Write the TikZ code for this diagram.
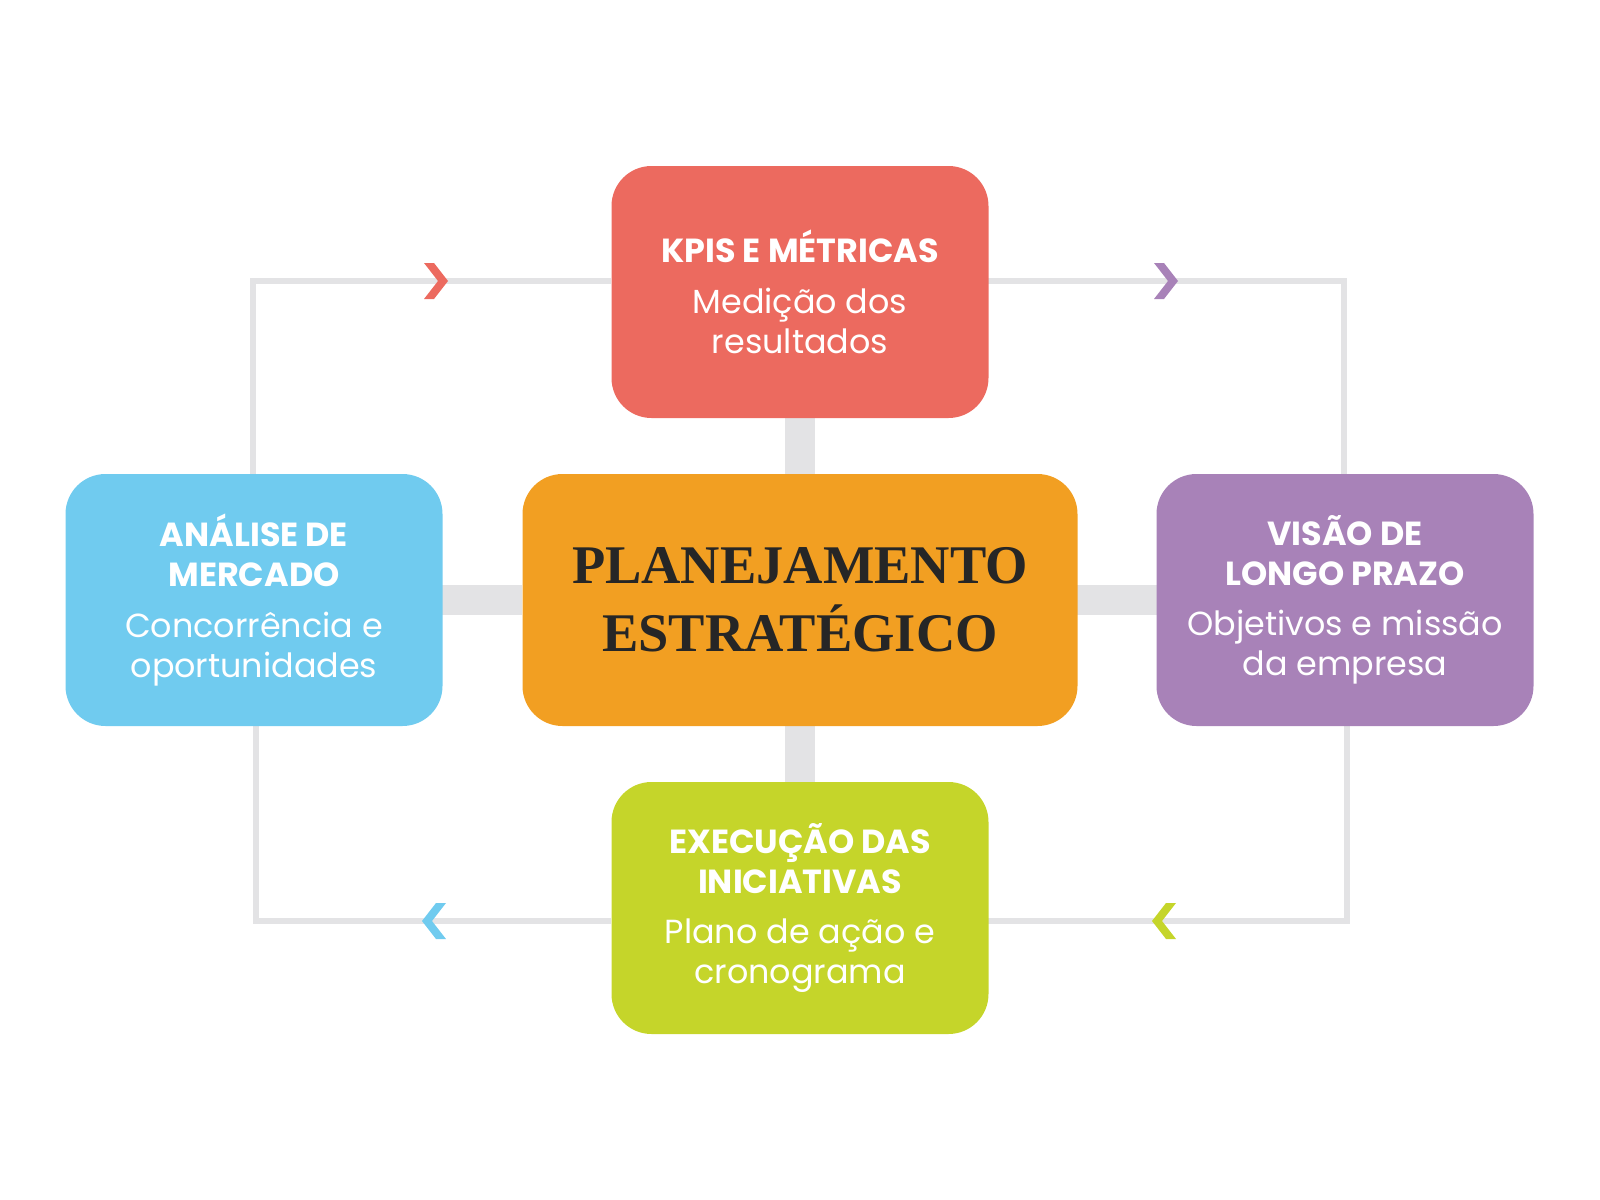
\documentclass[tikz,border=0pt]{standalone}
\usepackage{fontspec}
\setmainfont{Poppins}
\newfontfamily\titlefont{Liberation Serif}
\newcommand\hdx{\bfseries}
\newcommand\bdx{\mdseries}
\begin{document}
\begin{tikzpicture}[x=0.02cm,y=-0.02cm,
  box/.style={rounded corners=40*0.02cm, minimum width=377*0.02cm, minimum height=252*0.02cm, text=white, align=center, inner sep=0pt, font=\fontsize{19}{22.7}\selectfont},
  bar/.style={draw=barg, line width=30*0.02cm},
  loop/.style={draw=barg, line width=6*0.02cm}]
\definecolor{cr}{HTML}{EC6A5F}\definecolor{co}{HTML}{F29F22}
\definecolor{cb}{HTML}{70CBEF}\definecolor{cp}{HTML}{A882B8}
\definecolor{cg}{HTML}{C5D52A}\definecolor{barg}{HTML}{E3E3E5}
\useasboundingbox (0,0) rectangle (1600,1200);
% bars
\coordinate (t1) at (800,418); \coordinate (t2) at (800,474);
\coordinate (b1) at (800,726); \coordinate (b2) at (800,783);
\coordinate (l1) at (442,600); \coordinate (l2) at (522,600);
\coordinate (r1) at (1077,600); \coordinate (r2) at (1157,600);
\draw[bar] (t1)--(t2); \draw[bar] (b1)--(b2);
\draw[bar] (l1)--(l2); \draw[bar] (r1)--(r2);
% loops
\coordinate (a1) at (253,474); \coordinate (a2) at (611,281);
\coordinate (a3) at (988,281); \coordinate (a4) at (1344,474);
\coordinate (a5) at (1347,726); \coordinate (a6) at (988,921);
\coordinate (a7) at (611,921); \coordinate (a8) at (256,726);
\draw[loop] (a1) |- (a2); \draw[loop] (a3) -| (a4);
\draw[loop] (a5) |- (a6); \draw[loop] (a7) -| (a8);
% chevrons
\coordinate (c1) at (438,281); \coordinate (c2) at (1168,281);
\coordinate (c3) at (1162,921); \coordinate (c4) at (432,921);
\fill[cr] (c1) ++(-14,-18) -- ++(10,0) -- ++(14,18) -- ++(-14,18) -- ++(-10,0) -- ++(14,-18) -- cycle;
\fill[cp] (c2) ++(-14,-18) -- ++(10,0) -- ++(14,18) -- ++(-14,18) -- ++(-10,0) -- ++(14,-18) -- cycle;
\fill[cg] (c3) ++(14,-18) -- ++(-10,0) -- ++(-14,18) -- ++(14,18) -- ++(10,0) -- ++(-14,-18) -- cycle;
\fill[cb] (c4) ++(14,-18) -- ++(-10,0) -- ++(-14,18) -- ++(14,18) -- ++(10,0) -- ++(-14,-18) -- cycle;
% boxes
\node[box, fill=cr] (top) at (800,292) {\hdx KPIS E MÉTRICAS\\[6pt]\bdx Medição dos\\ \bdx resultados};
\node[box, fill=co, minimum width=555*0.02cm, text=black!85, font=\titlefont\fontsize{31}{38.6}\selectfont\bfseries] (mid) at (800,600) {PLANEJAMENTO\\ESTRATÉGICO};
\node[box, fill=cb] (left) at (254,600) {\hdx ANÁLISE DE\\ \hdx MERCADO\\[6pt]\bdx Concorrência e\\ \bdx oportunidades};
\node[box, fill=cp] (right) at (1345,600) {\hdx VISÃO DE\\ \hdx LONGO PRAZO\\[6pt]\bdx Objetivos e missão\\ \bdx da empresa};
\node[box, fill=cg] (bot) at (800,908) {\hdx EXECUÇÃO DAS\\ \hdx INICIATIVAS\\[6pt]\bdx Plano de ação e\\ \bdx cronograma};
\end{tikzpicture}
\end{document}
